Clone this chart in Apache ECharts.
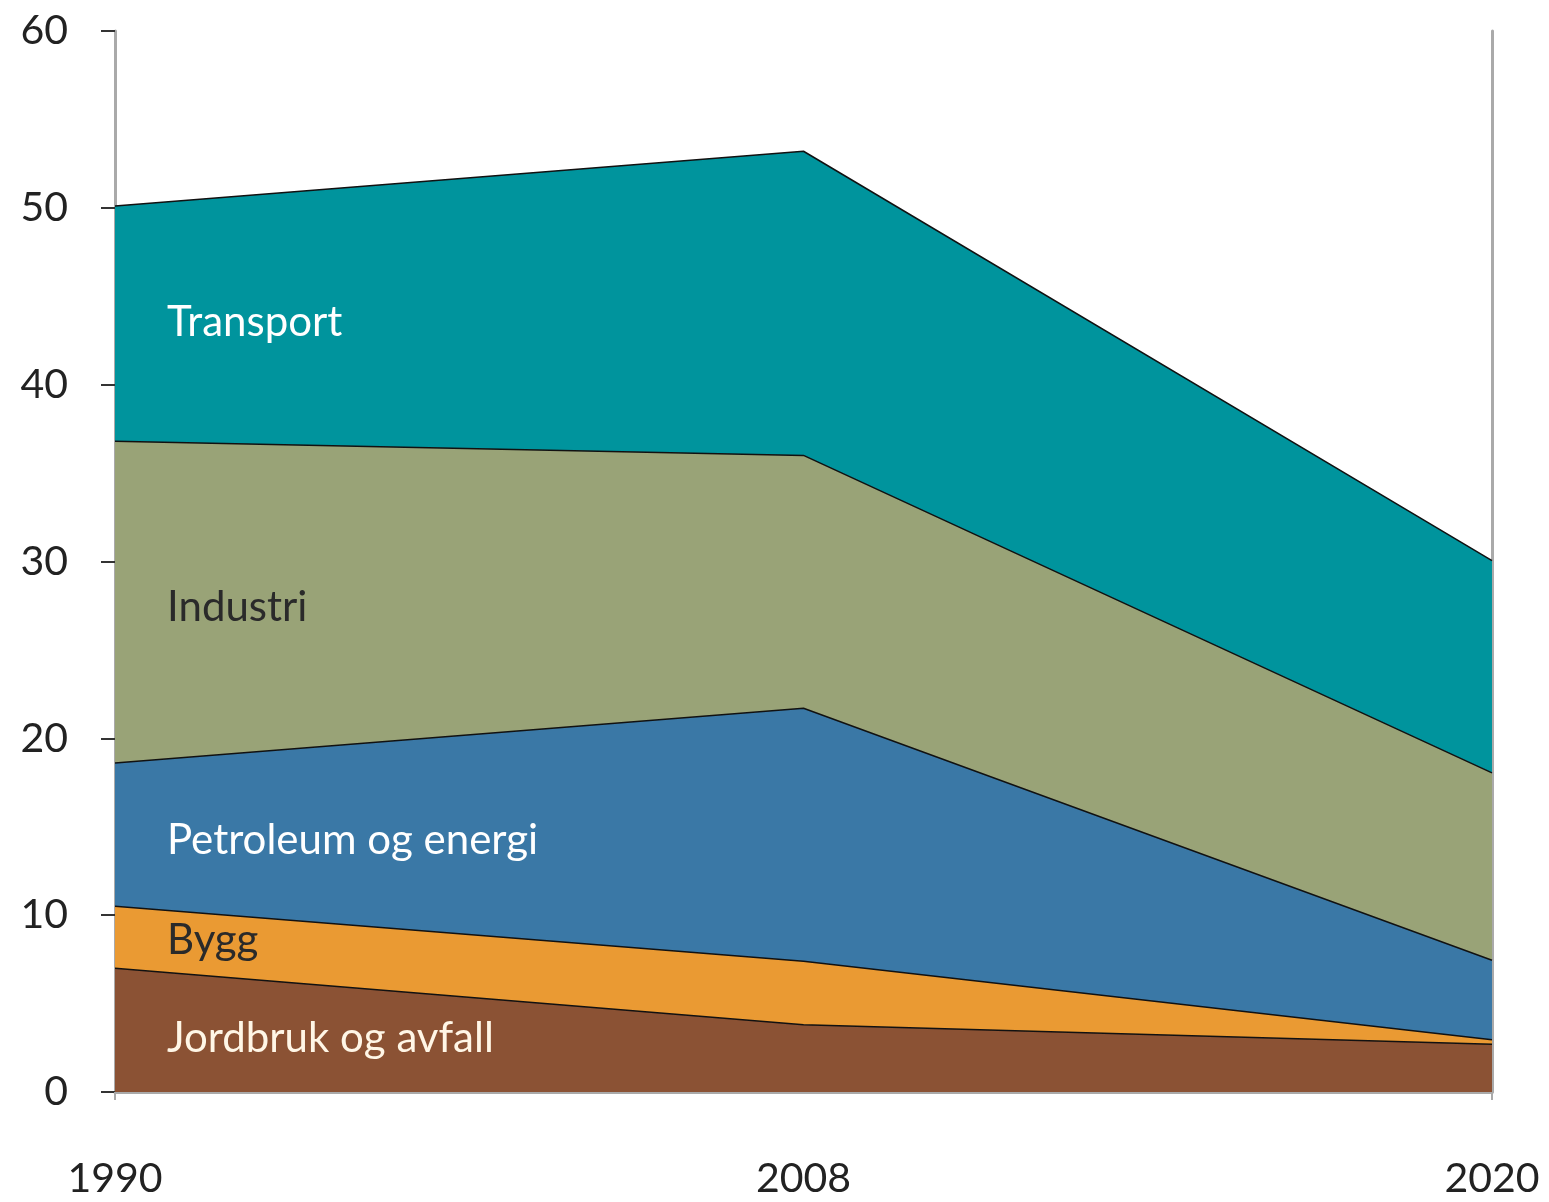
<!DOCTYPE html>
<html>
<head>
<meta charset="utf-8">
<script src="https://cdn.jsdelivr.net/npm/echarts@6/dist/echarts.min.js"></script>
<style>
html,body{margin:0;padding:0;background:#fff;}
#chart{width:1549px;height:1202px;}
</style>
</head>
<body>
<div id="chart"></div>
<script>
const years = ['1990', '2008', '2020'];
const jordbruk = [7.0, 3.8, 2.7];
const bygg = [3.5, 3.6, 0.25];
const petroleum = [8.1, 14.3, 4.5];
const industri = [18.2, 14.3, 10.6];
const transport = [13.3, 17.2, 12.0];
const yTicks = [0, 10, 20, 30, 40, 50, 60];

const seriesDefs = [
  { name: 'Jordbruk og avfall', data: jordbruk, color: '#8B5234', label: '#FFF6E6' },
  { name: 'Bygg', data: bygg, color: '#EA9A33', label: '#2a2a2a' },
  { name: 'Petroleum og energi', data: petroleum, color: '#3A78A6', label: '#ffffff' },
  { name: 'Industri', data: industri, color: '#99A377', label: '#2a2a2a' },
  { name: 'Transport', data: transport, color: '#00949D', label: '#ffffff' }
];
const labelY = [1038, 940, 840, 607, 322];

const chart = echarts.init(document.getElementById('chart'));
const font = 'Lato, "Open Sans", sans-serif';
chart.setOption({
  animation: false,
  grid: { left: 115, right: 57, top: 31, bottom: 110 },
  xAxis: {
    type: 'category',
    data: years,
    boundaryGap: false,
    axisLine: { show: true, lineStyle: { color: '#aaaaaa', width: 3 } },
    axisTick: { show: true, length: 8, interval: function (i) { return i !== 1; }, lineStyle: { color: '#aaaaaa', width: 2 } },
    axisLabel: { margin: 66, fontSize: 41, color: '#222', fontFamily: font }
  },
  yAxis: [{
    type: 'value',
    min: 0, max: 60, interval: 10,
    splitLine: { show: false },
    axisLine: { show: true, lineStyle: { color: '#aaaaaa', width: 3 } },
    axisTick: { show: true, length: 14, lineStyle: { color: '#333', width: 2 } },
    axisLabel: { margin: 47, fontSize: 41, color: '#222', fontFamily: font,
      formatter: function (v) { return yTicks.indexOf(v) >= 0 ? String(v) : ''; } }
  }, {
    type: 'value',
    position: 'right',
    min: 0, max: 60, interval: 10,
    splitLine: { show: false },
    axisLine: { show: true, lineStyle: { color: '#aaaaaa', width: 3 } },
    axisTick: { show: false },
    axisLabel: { show: false }
  }],
  series: seriesDefs.map(function (s) {
    return {
      name: s.name,
      type: 'line',
      stack: 'total',
      data: s.data,
      symbol: 'none',
      lineStyle: { color: '#111', width: 1.5 },
      areaStyle: { color: s.color, opacity: 1 },
      z: 2
    };
  }),
  graphic: seriesDefs.map(function (s, i) {
    return {
      type: 'text',
      x: 167,
      y: labelY[i],
      z: 10,
      style: {
        text: s.name,
        fill: s.label,
        font: '42px ' + font,
        verticalAlign: 'middle'
      }
    };
  })
});
</script>
</body>
</html>
